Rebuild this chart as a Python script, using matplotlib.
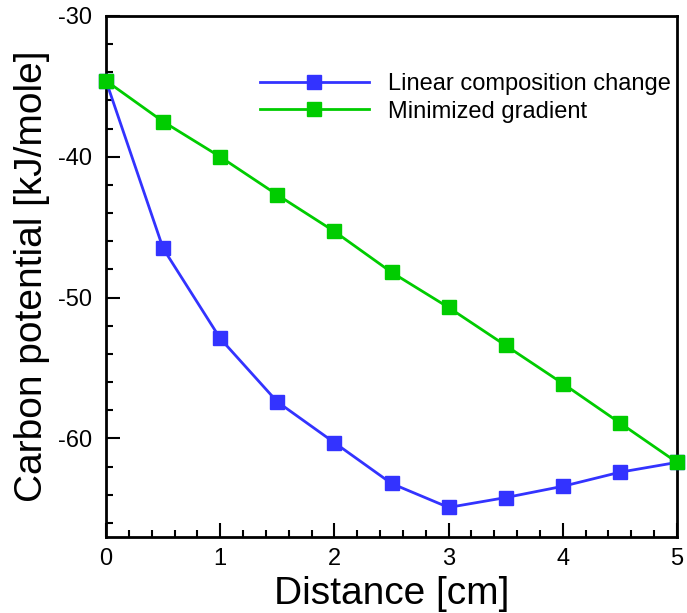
import numpy as np
import matplotlib
matplotlib.use("Agg")
import matplotlib.pyplot as plt
from matplotlib.ticker import MultipleLocator

plt.rcParams['font.family'] = ['Liberation Sans', 'DejaVu Sans']
plt.rcParams['axes.unicode_minus'] = False

# data
distance = [0, 0.5, 1, 1.5, 2, 2.5, 3, 3.5, 4, 4.5, 5]
linear_change = [-34.6, -46.5, -52.9, -57.4, -60.3, -63.2, -64.9, -64.2, -63.4, -62.4, -61.7]
min_gradient = [-34.6, -37.5, -40.0, -42.7, -45.3, -48.2, -50.7, -53.4, -56.1, -58.9, -61.7]
labels = ["Linear composition change", "Minimized gradient"]

fig = plt.figure(figsize=(6.87, 6.13), dpi=100)
ax = fig.add_axes([106/687, 1 - 537/613, (677 - 106)/687, (537 - 16)/613])

ax.plot(distance, linear_change, color='#3333ff', lw=2, marker='s', ms=9.5,
        label=labels[0], clip_on=False, zorder=3)
ax.plot(distance, min_gradient, color='#00cc00', lw=2, marker='s', ms=9.5,
        label=labels[1], clip_on=False, zorder=4)

ax.set_xlim(0, 5)
ax.set_ylim(-67, -30)
ax.xaxis.set_major_locator(MultipleLocator(1))
ax.xaxis.set_minor_locator(MultipleLocator(0.2))
ax.yaxis.set_major_locator(MultipleLocator(10))
ax.yaxis.set_minor_locator(MultipleLocator(2))

ax.tick_params(which='both', direction='in', top=False, right=False, width=1.5, labelsize=17)
ax.tick_params(which='major', length=10, pad=8)
ax.tick_params(which='minor', length=5)
ax.tick_params(axis='y', pad=10)
for sp in ax.spines.values():
    sp.set_linewidth(2)

ax.set_xlabel("Distance [cm]", fontsize=28, labelpad=4)
ax.set_ylabel("Carbon potential [kJ/mole]", fontsize=28, labelpad=6)

ax.legend(loc='upper left', bbox_to_anchor=(0.27, 0.89), frameon=False, fontsize=17,
          handlelength=4.6, handletextpad=0.8, labelspacing=0.23, borderpad=0,
          borderaxespad=0)

fig.savefig("out.png", dpi=100)
